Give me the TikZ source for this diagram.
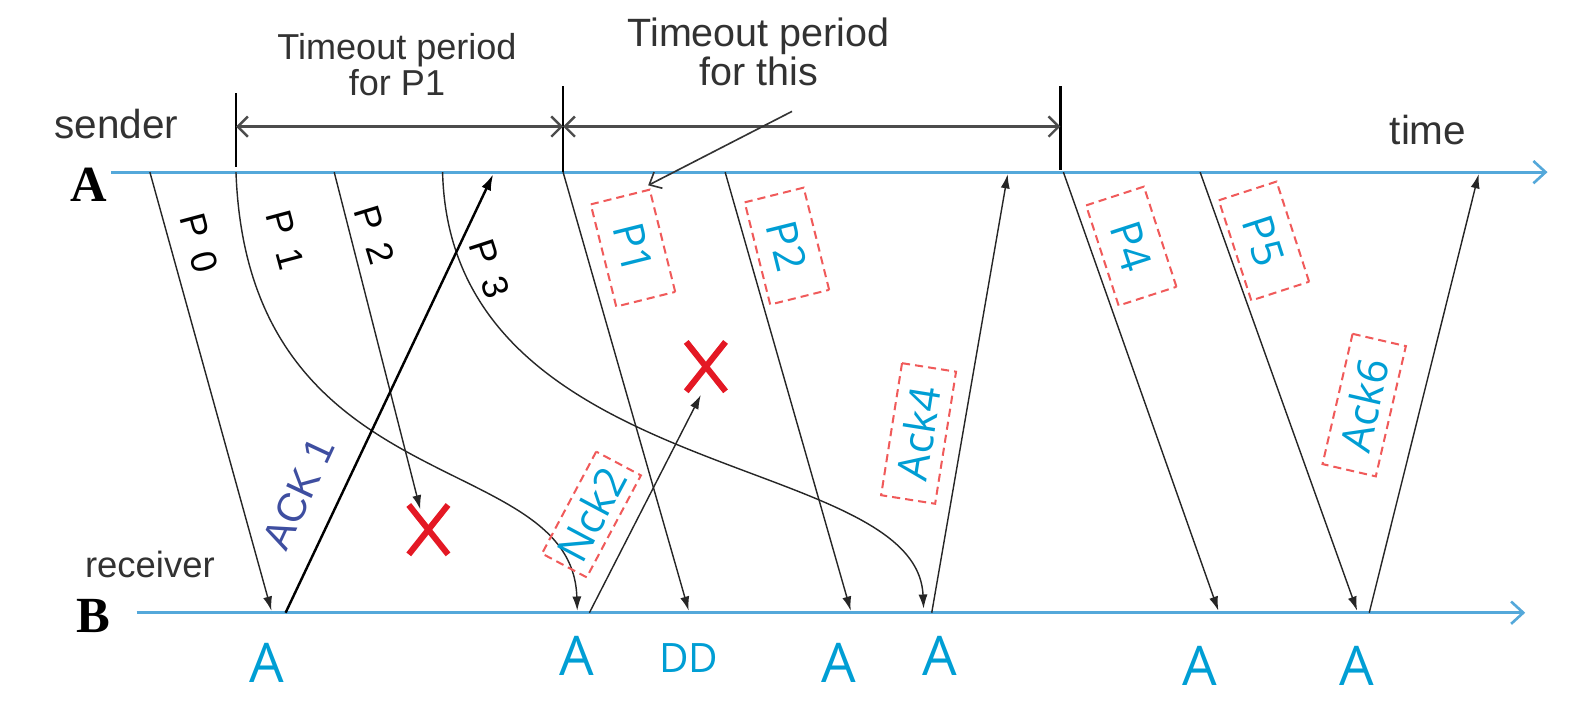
\documentclass[tikz,border=0pt]{standalone}
\usepackage{fontspec}
\setmainfont{Liberation Sans}
\newfontfamily\serifb{Liberation Serif}
\newfontfamily\hand{Open Sans}
\usetikzlibrary{arrows.meta}
\definecolor{axisblue}{RGB}{84,168,218}
\definecolor{handblue}{RGB}{0,158,212}
\definecolor{boxred}{RGB}{240,90,90}
\definecolor{xred}{RGB}{228,24,36}
\definecolor{ackblue}{RGB}{62,78,160}
\definecolor{txtgray}{RGB}{50,50,50}
\begin{document}
\begin{tikzpicture}[x=0.5pt,y=-0.5pt,
  axisline/.style={draw=axisblue,line width=1.5pt,-{Straight Barb[length=6pt,width=11pt,line width=1.3pt]}},
  pkt/.style={draw=black!85,line width=0.7pt,-{Latex[length=7pt,width=4.5pt]}},
  ackthick/.style={draw=black,line width=1.2pt,-{Latex[length=8pt,width=5pt]}},
  bar/.style={draw=black,line width=1.3pt},
  tarrow/.style={draw=black!70,line width=1.2pt,{Straight Barb[length=5pt,width=10pt]}-{Straight Barb[length=5pt,width=10pt]}},
  pointer/.style={draw=black!80,line width=0.8pt,-{Straight Barb[length=5pt,width=9pt]}},
  plbl/.style={font=\fontsize{18}{18}\selectfont,text=black,inner sep=0pt},
  hbox/.style={draw=boxred,dash pattern=on 4pt off 2.5pt,line width=1pt,inner sep=0pt,font=\hand\fontsize{21}{21}\selectfont,text=handblue},
  pbox/.style={hbox,minimum width=52pt,minimum height=30pt},
  abox/.style={hbox,minimum width=66pt,minimum height=27pt},
  blbl/.style={font=\hand\fontsize{27}{27}\selectfont,text=handblue,inner sep=0pt},
  xmark/.style={draw=xred,line width=3pt},
  xnode/.style={minimum width=19pt,minimum height=24pt,inner sep=0pt}
]
\useasboundingbox (0,0) rectangle (1568,700);

% axes
\coordinate (As) at (110,170); \coordinate (Ae) at (1528,170);
\coordinate (Bs) at (135,605); \coordinate (Be) at (1506,605);
\draw[axisline] (As) -- (Ae);
\draw[axisline] (Bs) -- (Be);
\node[font=\serifb\bfseries\fontsize{25}{25}\selectfont] (Alab) at (88,182) {A};
\node[font=\serifb\bfseries\fontsize{25}{25}\selectfont] (Blab) at (92,608) {B};
\node[font=\fontsize{20}{20}\selectfont,text=txtgray] (sender) at (115,122) {sender};
\node[font=\fontsize{18}{18}\selectfont,text=txtgray] (receiver) at (148,557) {receiver};
\node[font=\fontsize{20}{20}\selectfont,text=txtgray] (time) at (1410,128) {time};

% timeout bars
\coordinate (t1a) at (233,92); \coordinate (t1b) at (233,165);
\coordinate (t2a) at (556,85); \coordinate (t2b) at (556,170);
\coordinate (t3a) at (1047,85); \coordinate (t3b) at (1047,168);
\draw[bar] (t1a) -- (t1b);
\draw[bar] (t2a) -- (t2b);
\draw[bar] (t3a) -- (t3b);
\coordinate (h1) at (233,125); \coordinate (h2) at (556,125); \coordinate (h3) at (1047,125);
\draw[tarrow] (h1) -- (h2);
\draw[tarrow] (h2) -- (h3);
\node[align=center,font=\fontsize{17.8}{16}\selectfont,text=txtgray] (to1) at (392,64) {Timeout period\\for P1};
\node[align=center,font=\fontsize{19.5}{17.5}\selectfont,text=txtgray] (to2) at (749,51) {Timeout period\\for this};
\coordinate (pa) at (782,110); \coordinate (pb) at (640,183);
\draw[pointer] (pa) -- (pb);

% send / receive points
\coordinate (s0) at (148,170); \coordinate (r0) at (268,603);
\coordinate (s1) at (233,170); \coordinate (r1) at (570,603);
\coordinate (s2) at (330,170); \coordinate (r2) at (415,503);
\coordinate (s3) at (437,170); \coordinate (r3) at (912,601);
\coordinate (a1s) at (282,605); \coordinate (a1e) at (487,172);
\coordinate (s1r) at (556,170); \coordinate (r1r) at (680,603);
\coordinate (n2s) at (582,605); \coordinate (n2e) at (692,390);
\coordinate (s2r) at (716,170); \coordinate (r2r) at (840,603);
\coordinate (a4s) at (920,605); \coordinate (a4e) at (995,172);
\coordinate (s4) at (1050,170); \coordinate (r4) at (1203,603);
\coordinate (s5) at (1185,170); \coordinate (r5) at (1340,603);
\coordinate (a6s) at (1352,605); \coordinate (a6e) at (1460,172);

% lost markers
\node[xnode] (x1) at (423,523) {};
\node[xnode] (x2) at (697,362) {};
\draw[xmark] (x1.north west) -- (x1.south east) (x1.north east) -- (x1.south west);
\draw[xmark] (x2.north west) -- (x2.south east) (x2.north east) -- (x2.south west);

% packets
\draw[pkt] (s0) -- (r0);
\draw[pkt] (s1) .. controls (245,500) and (565,440) .. (r1);
\draw[pkt] (s2) -- (r2);
\draw[pkt] (s3) .. controls (445,480) and (905,445) .. (r3);
\draw[ackthick] (a1s) -- (a1e);
\draw[pkt] (s1r) -- (r1r);
\draw[pkt] (n2s) -- (n2e);
\draw[pkt] (s2r) -- (r2r);
\draw[pkt] (a4s) -- (a4e);
\draw[pkt] (s4) -- (r4);
\draw[pkt] (s5) -- (r5);
\draw[pkt] (a6s) -- (a6e);

% printed labels
\node[plbl,rotate=-75] (lp0) at (197,240) {P\hspace{0.4em}0};
\node[plbl,rotate=-75] (lp1) at (282,237) {P\hspace{0.4em}1};
\node[plbl,rotate=-73] (lp2) at (370,232) {P\hspace{0.4em}2};
\node[plbl,rotate=-72] (lp3) at (483,265) {P\hspace{0.4em}3};
\node[font=\fontsize{20}{20}\selectfont,text=ackblue,rotate=65,inner sep=0pt] (lack1) at (295,487) {ACK 1};

% handwritten boxed labels
\node[pbox,rotate=-76] (bp1) at (625,245) {P1};
\node[pbox,rotate=-76] (bp2) at (777,243) {P2};
\node[pbox,rotate=-72] (bp4) at (1117,243) {P4};
\node[pbox,rotate=-72] (bp5) at (1248,238) {P5};
\node[abox,rotate=81] (ba4) at (907,428) {Ack4};
\node[abox,rotate=77] (ba6) at (1347,400) {Ack6};
\node[hbox,minimum width=57pt,minimum height=25pt,rotate=62] (bn2) at (584,508) {Nck2};

% bottom labels
\node[blbl] (b1) at (263,655) {A};
\node[blbl] (b2) at (570,648) {A};
\node[blbl,font=\hand\fontsize{20}{20}\selectfont] (b3) at (680,650) {DD};
\node[blbl] (b4) at (828,655) {A};
\node[blbl] (b5) at (928,648) {A};
\node[blbl] (b6) at (1185,658) {A};
\node[blbl] (b7) at (1340,658) {A};
\end{tikzpicture}
\end{document}
